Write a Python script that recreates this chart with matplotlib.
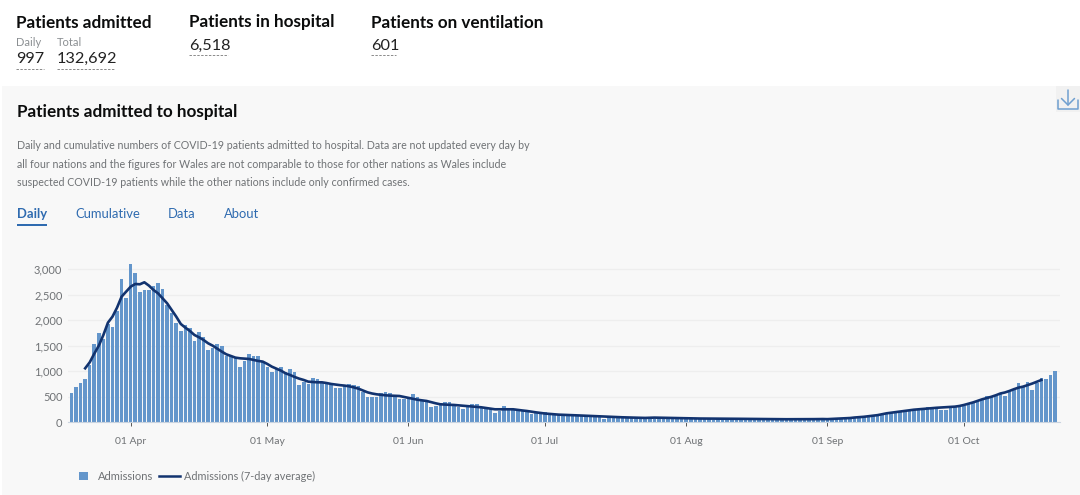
import matplotlib
matplotlib.use("Agg")
import matplotlib.pyplot as plt
import matplotlib.dates as mdates
from matplotlib.patches import Rectangle
from matplotlib.ticker import FuncFormatter
import pandas as pd

start_date = "2020-03-19"
admissions = [
    582,686,771,856,1124,1536,1752,1634,1928,1869,2183,2810,2444,
    3098,2928,2562,2588,2595,2673,2739,2614,2300,2150,1948,1791,1908,1856,1601,1771,1667,1412,
    1464,1529,1497,1307,1294,1255,1078,1203,1340,1294,1294,1190,1078,980,1039,1085,980,1039,993,739,
    797,752,863,843,797,765,732,667,680,712,745,725,712,601,503,503,503,569,588,569,536,464,451,
    490,549,490,438,399,307,327,373,392,399,340,294,261,320,359,353,307,268,255,190,216,314,255,255,242,222,209,163,176,196,
    196,163,144,140,150,135,130,125,128,120,110,105,100,60,95,90,92,85,88,80,70,55,70,72,68,65,66,62,60,58,55,
    57,60,55,62,58,64,52,60,56,62,54,58,60,50,62,56,60,52,58,54,62,50,58,56,60,52,56,62,54,60,
    60,62,66,68,72,78,84,90,98,104,112,125,135,150,172,182,195,205,222,232,240,250,
    258,307,255,255,242,235,275,294,307,
    320,359,392,438,451,516,490,516,569,516,601,647,765,686,784,634,778,863,856,922,997,
]
average_7day = [
    1059,1176,1346,1503,1712,1954,2072,2248,2464,2562,
    2660,2712,2706,2745,2680,2595,2529,2431,2333,2203,2072,1928,1856,1791,1712,1667,1614,1549,1503,1444,
    1386,1333,1301,1268,1255,1248,1242,1222,1203,1190,1144,1091,1052,1013,961,928,889,856,830,797,791,784,
    784,770,752,740,728,719,705,685,660,625,588,565,549,538,529,523,520,516,497,478,458,442,430,418,
    395,372,353,347,343,340,332,322,314,308,300,294,280,268,255,255,256,256,255,243,232,222,208,195,183,172,
    165,158,150,147,143,140,136,132,128,125,122,118,114,110,106,102,98,95,92,90,88,86,90,92,90,88,85,82,80,78,76,75,
    74,74,73,73,72,72,71,70,70,69,68,67,66,66,65,64,63,62,62,61,60,60,60,61,61,62,62,63,64,
    62,66,70,74,78,84,94,100,108,118,128,140,158,176,188,198,210,222,235,247,255,265,272,280,285,290,295,300,307,320,
    340,365,390,420,451,475,500,530,565,585,615,650,680,700,730,760,795,830,
]
y_ticks = [0, 500, 1000, 1500, 2000, 2500, 3000]
x_tick_dates = ["2020-04-01", "2020-05-01", "2020-06-01", "2020-07-01", "2020-08-01", "2020-09-01", "2020-10-01"]
tabs = ["Daily", "Cumulative", "Data", "About"]
description = [
    "Daily and cumulative numbers of COVID-19 patients admitted to hospital. Data are not updated every day by",
    "all four nations and the figures for Wales are not comparable to those for other nations as Wales include",
    "suspected COVID-19 patients while the other nations include only confirmed cases.",
]
assert len(admissions) == 217 and len(average_7day) == 211

W, H = 1080, 495
BAR = "#6496cb"
NAVY = "#12336f"
LINK = "#2f6bb0"
FONT = "Lato"
plt.rcParams["font.family"] = [FONT, "DejaVu Sans"]

dates = pd.date_range(start_date, periods=len(admissions))
avg_dates = pd.date_range(pd.Timestamp(start_date) + pd.Timedelta(days=3), periods=len(average_7day))

fig = plt.figure(figsize=(W / 100, H / 100), dpi=100, facecolor="white")

page = fig.add_axes([0, 0, 1, 1], zorder=0)
page.set_xlim(0, W)
page.set_ylim(H, 0)
page.axis("off")
page.add_patch(Rectangle((2, 86), W - 2, H - 86, fc="#f8f8f8", ec="none"))

def t(x, y, s, size, color="#0b0c0c", weight="normal", **kw):
    return page.text(x, y, s, fontsize=size, color=color, fontweight=weight, va="center", ha="left", **kw)

def under(x0, x1, y):
    page.plot([x0, x1], [y, y], color="#8a8a8a", lw=0.7, ls=(0, (2.5, 1.5)))

t(16, 22.5, "Patients admitted", 12.35, weight="bold")
t(189, 22.5, "Patients in hospital", 12.35, weight="bold")
t(371, 22.5, "Patients on ventilation", 12.35, weight="bold")
t(16, 43, "Daily", 8, color="#8b8f92")
t(57, 43, "Total", 8, color="#8b8f92")
t(16, 59, "997", 11.7, color="#222222")
t(57, 59, "132,692", 11.7, color="#222222")
t(189, 45.5, "6,518", 11.7, color="#222222")
t(371, 45.5, "601", 11.7, color="#222222")
under(16, 44, 68.5)
under(57, 115, 68.5)
under(189, 228, 55)
under(371, 396, 55)

t(17, 112, "Patients admitted to hospital", 12.35, weight="bold")
for i, line in enumerate(description):
    t(17, 145.5 + i * 18.5, line, 7.65, color="#6f7275")

tab_x = [17, 75, 168, 224]
for x, label in zip(tab_x, tabs):
    t(x, 213.5, label, 9.4, color=LINK, weight="bold" if label == "Daily" else "normal")
page.add_patch(Rectangle((17, 223.5), 30, 2.2, fc=LINK, ec="none"))

# download icon
page.add_patch(Rectangle((1056, 86), 24, 26, fc="#f1f1f1", ec="none"))
ic = dict(color="#6f9fd0", lw=1.1, solid_capstyle="round")
page.plot([1058, 1058, 1078, 1078], [100, 108.5, 108.5, 100], **ic)
page.plot([1068, 1068], [90, 105], **ic)
page.plot([1061.5, 1068, 1074.5], [98.5, 105, 98.5], **ic)

# legend
page.add_patch(Rectangle((79, 471.5), 8.5, 8.5, fc=BAR, ec="none"))
t(97.5, 476, "Admissions", 8, color="#6f7275")
page.plot([159, 180], [475.5, 475.5], color=NAVY, lw=1.8)
t(184.5, 476, "Admissions (7-day average)", 7.85, color="#6f7275")

# chart
left, right, bottom, top = 68, 1060, 422.3, 262
ax = fig.add_axes([left / W, 1 - bottom / H, (right - left) / W, (bottom - top) / H], zorder=2)
ax.patch.set_alpha(0)
ax.bar(dates, admissions, width=0.78, color=BAR, linewidth=0, zorder=2)
ax.plot(avg_dates, average_7day, color=NAVY, lw=1.9, zorder=3, solid_joinstyle="round")

px_per_day = 136.6 / 30
apr1 = mdates.date2num(pd.Timestamp("2020-04-01"))
ax.set_xlim(apr1 + (left - 130.7) / px_per_day, apr1 + (right - 130.7) / px_per_day)
ax.set_ylim(0, (bottom - top) / (153 / 3000))
ax.set_yticks(y_ticks)
ax.yaxis.set_major_formatter(FuncFormatter(lambda v, _: f"{int(v):,}"))
ax.set_xticks(pd.to_datetime(x_tick_dates))
ax.xaxis.set_major_formatter(mdates.DateFormatter("%d %b"))
ax.tick_params(axis="y", length=0, labelsize=8, labelcolor="#6f7275", pad=4)
ax.tick_params(axis="x", length=3, width=0.7, color="#555555", labelsize=7.5, labelcolor="#6f7275", pad=7.5)
ax.grid(axis="y", color="#eeeeee", lw=0.9, zorder=0)
ax.set_axisbelow(True)
for s in ("top", "right", "left"):
    ax.spines[s].set_visible(False)
ax.spines["bottom"].set_color("#c9d3df")
ax.spines["bottom"].set_linewidth(0.8)

fig.savefig("out.png", dpi=100, facecolor="white")
